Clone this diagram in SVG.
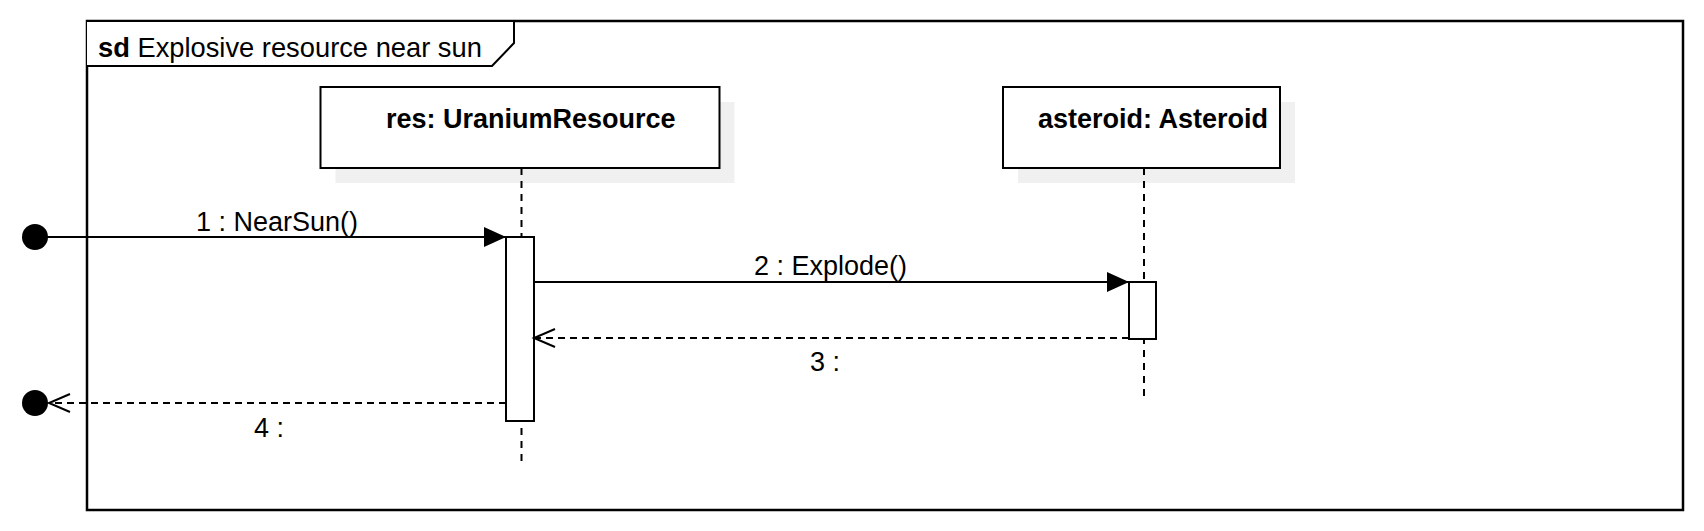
<svg xmlns="http://www.w3.org/2000/svg" width="1704" height="531" viewBox="0 0 1704 531">
<style>
text{font-family:"Liberation Sans",Arial,sans-serif;font-size:27px;fill:#000}
.b{font-weight:bold}
.box{fill:#fff;stroke:#000;stroke-width:2}
.shadow{fill:#f0f0f0;stroke:none}
.life{stroke:#000;stroke-width:2;stroke-dasharray:7 6;fill:none}
.msg{stroke:#000;stroke-width:2;fill:none}
.ret{stroke:#000;stroke-width:2;stroke-dasharray:7 5;fill:none}
.dot{fill:#000}
</style>
<defs>
<marker id="filled" markerUnits="userSpaceOnUse" markerWidth="22" markerHeight="20" refX="22" refY="10" orient="auto" overflow="visible"><path d="M0,0 L22,10 L0,20 Z" fill="#000"/></marker>
<marker id="open" markerUnits="userSpaceOnUse" markerWidth="24" markerHeight="22" refX="21" refY="10" orient="auto" overflow="visible"><path d="M0,1 L21,10 L0,19" fill="none" stroke="#000" stroke-width="2"/></marker>
</defs>
<rect width="1704" height="531" fill="#fff"/>
<g id="frame">
<rect x="87" y="21" width="1596" height="489" fill="#fff" stroke="#000" stroke-width="2.5"/>
<path d="M87,21 L514,21 L514,43 L492,66 L87,66" fill="#fff" stroke="#000" stroke-width="2"/>
<text x="98" y="57" style="font-size:27.3px"><tspan class="b">sd</tspan> Explosive resource near sun</text>
</g>
<g id="res">
<rect class="shadow" x="335.5" y="102" width="399" height="81"/>
<line class="life" x1="521.5" y1="168" x2="521.5" y2="465"/>
<rect class="box" x="320.5" y="87" width="399" height="81"/>
<text class="b" x="386" y="128">res: UraniumResource</text>
<rect class="box" x="506" y="237" width="28" height="184"/>
</g>
<g id="asteroid">
<rect class="shadow" x="1018" y="102" width="277" height="81"/>
<line class="life" x1="1144" y1="168" x2="1144" y2="401"/>
<rect class="box" x="1003" y="87" width="277" height="81"/>
<text class="b" x="1038" y="128">asteroid: Asteroid</text>
<rect class="box" x="1129" y="282" width="27" height="57"/>
</g>
<g id="start">
<circle class="dot" cx="35" cy="237" r="13"/>
</g>
<g id="end">
<circle class="dot" cx="35" cy="403" r="13"/>
</g>
<g id="connectors">
<line class="msg" x1="35" y1="237" x2="506" y2="237" marker-end="url(#filled)"/>
<text x="196" y="231">1 : NearSun()</text>
<line class="msg" x1="534" y1="282" x2="1129" y2="282" marker-end="url(#filled)"/>
<text x="754" y="275">2 : Explode()</text>
<line class="ret" x1="1129" y1="338" x2="534" y2="338" marker-end="url(#open)"/>
<text x="810" y="371">3 :</text>
<line class="ret" x1="506" y1="403" x2="49" y2="403" marker-end="url(#open)"/>
<text x="254" y="437">4 :</text>
</g>
</svg>
